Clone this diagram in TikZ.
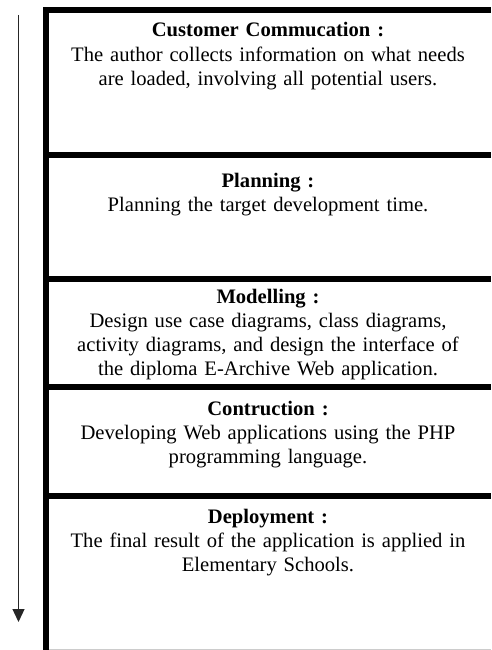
\documentclass[tikz,border=0pt]{standalone}
\usepackage{fontspec}
\setmainfont{Liberation Serif}
\usetikzlibrary{positioning,arrows.meta}

\begin{document}
\begin{tikzpicture}[x=1pt,y=-1pt,font=\fontsize{20.6}{24.1}\selectfont]
    \tikzstyle{stage}=[text width=440pt, align=center, inner sep=0pt, anchor=base]
    \tikzstyle{frame}=[line width=5.5pt]
    \useasboundingbox (0,0) rectangle (491,650);
    % frame of the phases
    \draw[frame] (46,650) -- (46,10) -- (491,10);
    \draw[frame] (46,155) -- (491,155);
    \draw[frame] (46,279) -- (491,279);
    \draw[frame] (46,387) -- (491,387);
    \draw[frame] (46,496) -- (491,496);
    \draw[gray!40] (49,649) -- (491,649);
    % phases
    \node[stage] (custcomm) at (268,37) {\textbf{Customer Commucation :}\\The author collects information on what needs\\are loaded, involving all potential users.};
    \node[stage] (planning) at (268,187) {\textbf{Planning :}\\Planning the target development time.};
    \node[stage] (modelling) at (268,303) {\textbf{Modelling :}\\Design use case diagrams, class diagrams,\\activity diagrams, and design the interface of\\the diploma E-Archive Web application.};
    \node[stage] (contruction) at (268,415) {\textbf{Contruction :}\\Developing Web applications using the PHP\\programming language.};
    \node[stage] (deployment) at (268,523) {\textbf{Deployment :}\\The final result of the application is applied in\\Elementary Schools.};
    % time arrow
    \coordinate (timestart) at (18.5,15);
    \coordinate (timeend) at (18.5,622);
    \draw[black!85, line width=1.3pt, -{Triangle[width=12pt,length=13pt]}] (timestart) -- (timeend);
\end{tikzpicture}
\end{document}
